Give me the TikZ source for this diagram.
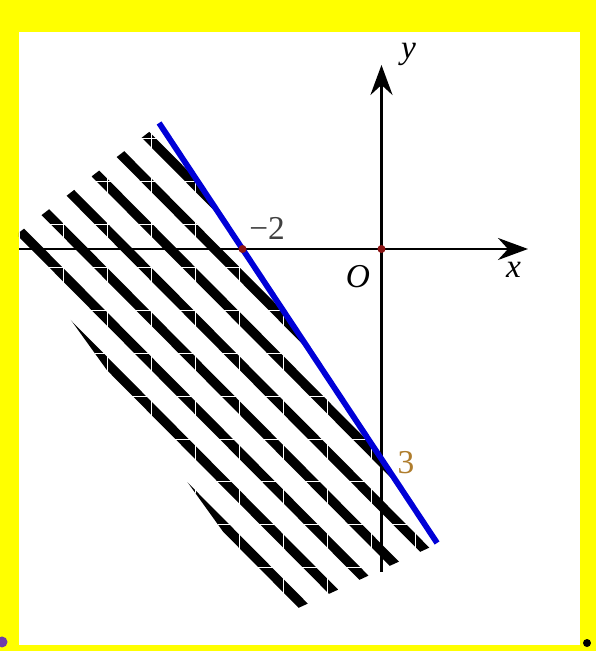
\documentclass[tikz,border=0pt]{standalone}
\usepackage{fontspec}
\setmainfont{Liberation Serif}
\usetikzlibrary{arrows.meta}

\definecolor{bgyellow}{RGB}{255,255,0}
\definecolor{lineblue}{RGB}{0,0,215}
\definecolor{dotred}{RGB}{140,20,20}
\definecolor{labeltan}{RGB}{175,125,45}
\definecolor{dotpurple}{RGB}{110,60,170}

\begin{document}
\begin{tikzpicture}[x=1.39cm, y=1.40cm,
  axis/.style={line width=1.6pt, -{Stealth[length=6mm, width=4.4mm, inset=2mm]}},
  hatch/.style={line width=5.4pt},
  lbl/.style={font=\fontsize{19}{21}\selectfont, inner sep=0pt},
  pt/.style={circle, fill=dotred, inner sep=0pt, minimum size=1.6mm}
]
\fill[bgyellow] (-5.489,-5.743) rectangle (3.086,3.557);
\fill[white] (-5.216,-5.657) rectangle (2.856,3.1);
\useasboundingbox (-5.489,-5.743) rectangle (3.086,3.557);

% shaded half-plane 3x+2y+6<0
\begin{scope}
  \clip (-3.158,1.814) -- (0.770,-4.229) -- (-1.417,-5.229) -- (-5.317,0.157) -- cycle;
  \clip (-5.216,-5.657) rectangle (2.856,3.1);
  \foreach \j in {-7,...,2}
    \draw[hatch] ({-2.40+0.637*\j-7},7) -- ({-2.40+0.637*\j+7},-7);
  \foreach \k in {-2,...,7}
    \draw[white, line width=0.45pt] ({-3.95+0.633*\k},3) -- ({-3.95+0.633*\k},-6);
  \foreach \k in {-3,...,8}
    \draw[white, line width=0.45pt] (-6,{-0.257-0.614*\k}) -- (3,{-0.257-0.614*\k});
\end{scope}

\coordinate (xs) at (-5.216,0);
\coordinate (xe) at (2.108,0);
\coordinate (ys) at (0,-4.614);
\coordinate (ye) at (0,2.629);
\draw[axis] (xs) -- (xe);
\draw[axis] (ys) -- (ye);

\coordinate (p) at (-3.2,1.8);
\coordinate (q) at (0.8,-4.2);
\draw[lineblue, line width=3.3pt] (p) -- (q);

\node[pt] (m2) at (-2,0) {};
\node[pt] (o) at (0,0) {};

\node[lbl] (ylab) at (0.39,2.78) {\itshape y};
\node[lbl] (xlab) at (1.9,-0.3) {\itshape x};
\node[lbl] (olab) at (-0.34,-0.39) {\itshape O};
\node[lbl, text=black!75] (m2lab) at (-1.647,0.3) {−2};
\node[lbl, text=labeltan] (threelab) at (0.353,-3.057) {3};

\node[circle, fill=dotpurple, inner sep=0pt, minimum size=2.2mm] (cornerl) at (-5.46,-5.614) {};
\node[circle, fill=black, inner sep=0pt, minimum size=1.6mm] (cornerr) at (2.957,-5.629) {};
\end{tikzpicture}
\end{document}
